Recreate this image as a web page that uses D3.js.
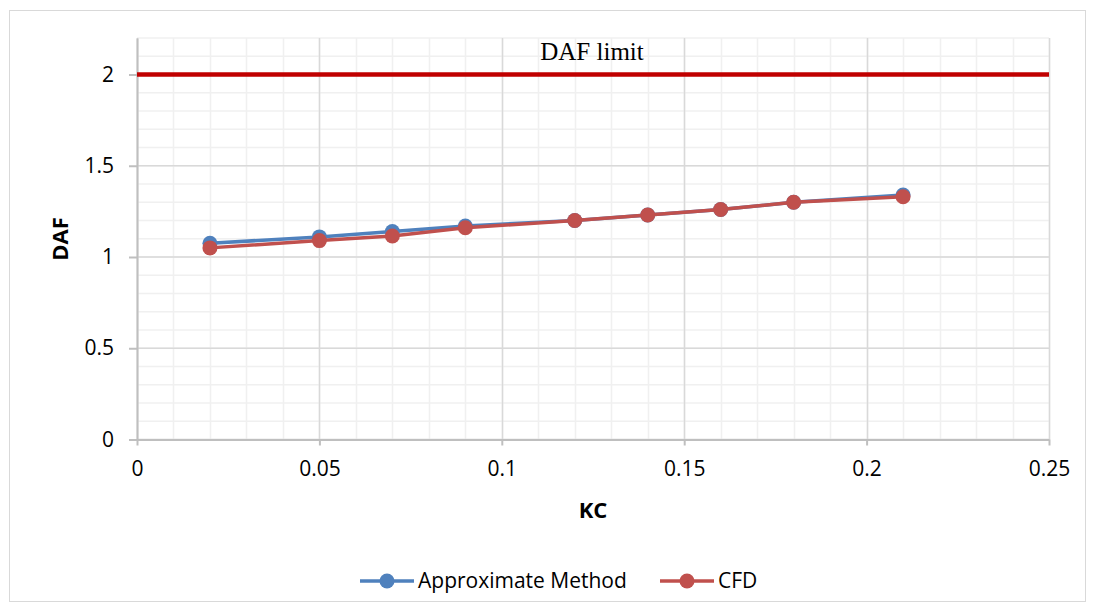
<!DOCTYPE html>
<html>
<head>
<meta charset="utf-8">
<script src="https://cdn.jsdelivr.net/npm/d3@7"></script>
<style>
  html, body { margin: 0; padding: 0; background: #fff; }
  svg { display: block; }
</style>
</head>
<body>
<svg id="chart" width="1095" height="612"></svg>
<script>
// ---- data ----
const kc = [0.02, 0.05, 0.07, 0.09, 0.12, 0.14, 0.16, 0.18, 0.21];
const approximate = [1.075, 1.11, 1.14, 1.17, 1.20, 1.23, 1.26, 1.30, 1.34];
const cfd = [1.05, 1.09, 1.115, 1.16, 1.20, 1.23, 1.26, 1.30, 1.33];
const limitX = [0, 0.25];
const limitY = [2, 2];
const xTicks = [0, 0.05, 0.1, 0.15, 0.2, 0.25];
const yTicks = [0, 0.5, 1, 1.5, 2];
const seriesNames = ["Approximate Method", "CFD"];
const seriesColors = ["#4f81bd", "#c0504d"];

const svg = d3.select("#chart");
const pLeft = 137, pRight = 1049, pTop = 38, pBottom = 439.5;

const x = d3.scaleLinear().domain([0, 0.25]).range([pLeft, pRight]);
const y = d3.scaleLinear().domain([0, 2.2]).range([pBottom, pTop]);

// chart border
svg.append("rect").attr("x", 9.5).attr("y", 10.5).attr("width", 1076).attr("height", 591)
  .attr("fill", "#fff").attr("stroke", "#d9d9d9").attr("stroke-width", 1);

const g = svg.append("g");

// minor gridlines
const xMinor = d3.range(0, 26).map(i => i * 0.01);
const yMinor = d3.range(0, 23).map(i => i * 0.1);
g.selectAll(".xminor").data(xMinor).enter().append("line")
  .attr("x1", d => Math.round(x(d)) + 0.5).attr("x2", d => Math.round(x(d)) + 0.5)
  .attr("y1", pTop).attr("y2", pBottom)
  .attr("stroke", "#f0f0f0").attr("stroke-width", 1.5);
g.selectAll(".yminor").data(yMinor).enter().append("line")
  .attr("y1", d => y(d)).attr("y2", d => y(d))
  .attr("x1", pLeft).attr("x2", pRight)
  .attr("stroke", "#f0f0f0").attr("stroke-width", 1.5);

// major gridlines
g.selectAll(".xmajor").data(xTicks).enter().append("line")
  .attr("x1", d => Math.round(x(d)) + 0.5).attr("x2", d => Math.round(x(d)) + 0.5)
  .attr("y1", pTop).attr("y2", pBottom)
  .attr("stroke", "#d9d9d9").attr("stroke-width", 1.5);
g.selectAll(".ymajor").data(yTicks).enter().append("line")
  .attr("y1", d => y(d)).attr("y2", d => y(d))
  .attr("x1", pLeft).attr("x2", pRight)
  .attr("stroke", "#d9d9d9").attr("stroke-width", 1.5);

// axes
const yAxis = d3.axisLeft(y).tickValues(yTicks).tickSize(8).tickSizeOuter(0).tickPadding(16)
  .tickFormat(d => d3.format("")(d));
const xAxis = d3.axisBottom(x).tickValues(xTicks).tickSize(6).tickSizeOuter(0).tickPadding(16)
  .tickFormat(d => d3.format("")(d));

const ya = svg.append("g").attr("transform", `translate(${pLeft},0)`).call(yAxis);
const xa = svg.append("g").attr("transform", `translate(0,${pBottom})`).call(xAxis);
[ya, xa].forEach(a => {
  a.select(".domain").attr("stroke", "#bfbfbf").attr("stroke-width", 2);
  a.selectAll(".tick line").attr("stroke", "#bfbfbf").attr("stroke-width", 2);
  a.selectAll(".tick text").attr("font-family", "'Open Sans', sans-serif")
    .attr("font-size", 21).attr("fill", "#000");
});
ya.selectAll(".tick text").attr("x", -23);
xa.selectAll(".tick text").attr("dy", "0.71em").attr("y", 22);

// DAF limit line
const lineGen = d3.line().x(d => x(d[0])).y(d => y(d[1]));
svg.append("path").datum(limitX.map((d, i) => [d, limitY[i]]))
  .attr("d", lineGen).attr("stroke", "#c00000").attr("stroke-width", 4.3).attr("fill", "none");

svg.append("text").attr("x", 592).attr("y", 60).attr("text-anchor", "middle")
  .attr("font-family", "'Liberation Serif', 'Times New Roman', serif").attr("font-size", 25)
  .attr("fill", "#000").text("DAF limit");

// series
const allSeries = [approximate, cfd];
allSeries.forEach((vals, si) => {
  const pts = kc.map((k, i) => [k, vals[i]]);
  svg.append("path").datum(pts).attr("d", lineGen)
    .attr("fill", "none").attr("stroke", seriesColors[si]).attr("stroke-width", 3.5)
    .attr("stroke-linejoin", "round");
  svg.selectAll(".m" + si).data(pts).enter().append("circle")
    .attr("cx", d => x(d[0])).attr("cy", d => y(d[1])).attr("r", 7.5)
    .attr("fill", seriesColors[si]);
});

// axis titles
svg.append("text").attr("transform", "translate(68,239) rotate(-90)")
  .attr("text-anchor", "middle").attr("font-family", "'Open Sans', sans-serif")
  .attr("font-weight", "bold").attr("font-size", 22).attr("fill", "#000").text("DAF");
svg.append("text").attr("x", 593).attr("y", 518).attr("text-anchor", "middle")
  .attr("font-family", "'Open Sans', sans-serif")
  .attr("font-weight", "bold").attr("font-size", 22).attr("fill", "#000").text("KC");

// legend
const legendX = [360, 660];
seriesNames.forEach((name, i) => {
  const lx = legendX[i], ly = 581;
  svg.append("line").attr("x1", lx).attr("x2", lx + 54).attr("y1", ly).attr("y2", ly)
    .attr("stroke", seriesColors[i]).attr("stroke-width", 3.5);
  svg.append("circle").attr("cx", lx + 27).attr("cy", ly).attr("r", 7.5).attr("fill", seriesColors[i]);
  svg.append("text").attr("x", lx + 58).attr("y", 588)
    .attr("font-family", "'Open Sans', sans-serif").attr("font-size", 21).attr("fill", "#000")
    .text(name);
});
</script>
</body>
</html>
